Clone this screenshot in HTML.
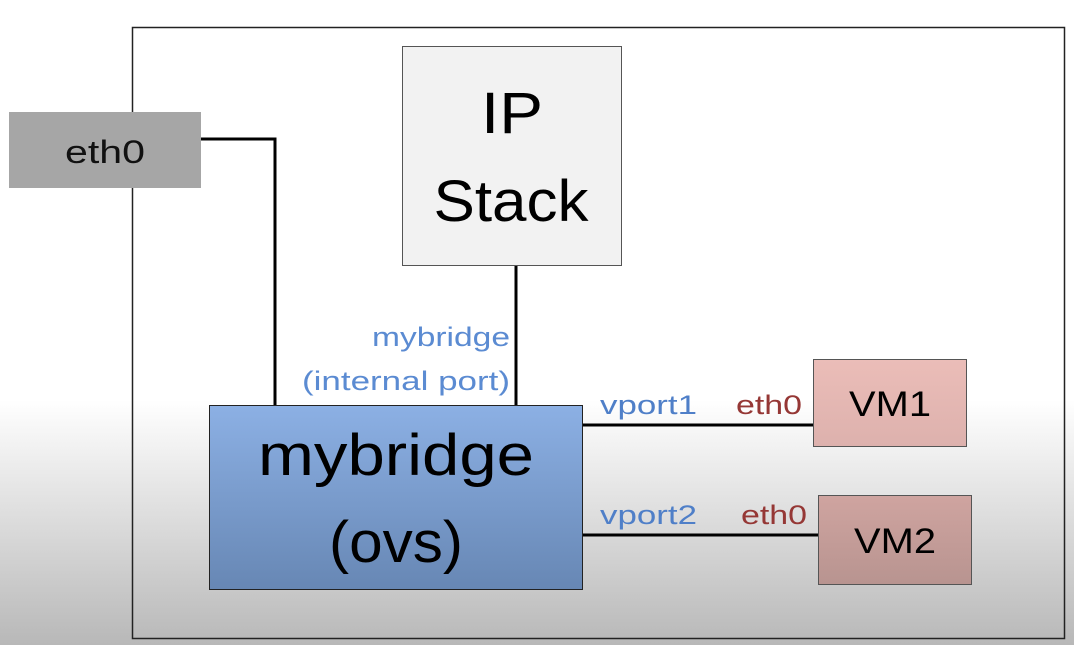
<!DOCTYPE html>
<html><head><meta charset="utf-8"><style>
html,body{margin:0;padding:0;width:1074px;height:645px;overflow:hidden;background:#fff}
svg{display:block}
text{font-family:"Liberation Sans",sans-serif}
</style></head><body>
<svg width="1074" height="645" viewBox="0 0 1074 645">
<defs>
<linearGradient id="bg" x1="0" y1="0" x2="0" y2="645" gradientUnits="userSpaceOnUse">
<stop offset="0" stop-color="#fff"/><stop offset="0.62" stop-color="#fff"/><stop offset="1" stop-color="#b8b8b8"/>
</linearGradient>
<linearGradient id="blue" x1="0" y1="0" x2="0" y2="1">
<stop offset="0" stop-color="#8cb0e4"/><stop offset="1" stop-color="#6787b4"/>
</linearGradient>
<linearGradient id="vm1" x1="0" y1="0" x2="0" y2="1">
<stop offset="0" stop-color="#ebbdb8"/><stop offset="1" stop-color="#ddb1ad"/>
</linearGradient>
<linearGradient id="vm2" x1="0" y1="0" x2="0" y2="1">
<stop offset="0" stop-color="#cfa4a0"/><stop offset="1" stop-color="#b89490"/>
</linearGradient>
</defs>
<rect width="1074" height="645" fill="url(#bg)"/>
<rect x="132.5" y="27.5" width="932" height="611" fill="none" stroke="#222" stroke-width="1.5"/>
<!-- lines -->
<polyline points="201,139 275,139 275,406" fill="none" stroke="#000" stroke-width="3"/>
<line x1="516" y1="265" x2="516" y2="406" stroke="#000" stroke-width="3"/>
<line x1="582" y1="425" x2="814" y2="425" stroke="#000" stroke-width="3"/>
<line x1="582" y1="535" x2="819" y2="535" stroke="#000" stroke-width="3"/>
<!-- eth0 -->
<rect x="9" y="112" width="192" height="76" fill="#a6a6a6"/>
<text x="105" y="163" font-size="32" text-anchor="middle" fill="#111" textLength="80" lengthAdjust="spacingAndGlyphs">eth0</text>
<!-- IP stack -->
<rect x="402.5" y="46.5" width="219" height="219" fill="#f2f2f2" stroke="#555" stroke-width="1"/>
<text x="512" y="133" font-size="58" text-anchor="middle" fill="#000" textLength="62" lengthAdjust="spacingAndGlyphs">IP</text>
<text x="511" y="221" font-size="58" text-anchor="middle" fill="#000" textLength="155" lengthAdjust="spacingAndGlyphs">Stack</text>
<!-- internal port label -->
<text x="510" y="346" font-size="27" text-anchor="end" fill="#5b8bd2" textLength="138" lengthAdjust="spacingAndGlyphs">mybridge</text>
<text x="510" y="390" font-size="27" text-anchor="end" fill="#5b8bd2" textLength="208" lengthAdjust="spacingAndGlyphs">(internal port)</text>
<!-- mybridge -->
<rect x="209.5" y="405.5" width="373" height="184" fill="url(#blue)" stroke="#222" stroke-width="1"/>
<text x="396" y="475" font-size="58" text-anchor="middle" fill="#000" textLength="276" lengthAdjust="spacingAndGlyphs">mybridge</text>
<text x="396" y="562" font-size="58" text-anchor="middle" fill="#000" textLength="134" lengthAdjust="spacingAndGlyphs">(ovs)</text>
<!-- vport labels -->
<text x="600" y="414" font-size="27" fill="#4f7fc8" textLength="97" lengthAdjust="spacingAndGlyphs">vport1</text>
<text x="736" y="414" font-size="27" fill="#953735" textLength="66" lengthAdjust="spacingAndGlyphs">eth0</text>
<text x="600" y="524" font-size="27" fill="#4f7fc8" textLength="97" lengthAdjust="spacingAndGlyphs">vport2</text>
<text x="741" y="524" font-size="27" fill="#953735" textLength="66" lengthAdjust="spacingAndGlyphs">eth0</text>
<!-- VMs -->
<rect x="813.5" y="359.5" width="153" height="87" fill="url(#vm1)" stroke="#555" stroke-width="1"/>
<text x="890" y="416" font-size="35" text-anchor="middle" fill="#000" textLength="82" lengthAdjust="spacingAndGlyphs">VM1</text>
<rect x="818.5" y="495.5" width="153" height="89" fill="url(#vm2)" stroke="#555" stroke-width="1"/>
<text x="895" y="553" font-size="35" text-anchor="middle" fill="#000" textLength="82" lengthAdjust="spacingAndGlyphs">VM2</text>
</svg>
</body></html>
